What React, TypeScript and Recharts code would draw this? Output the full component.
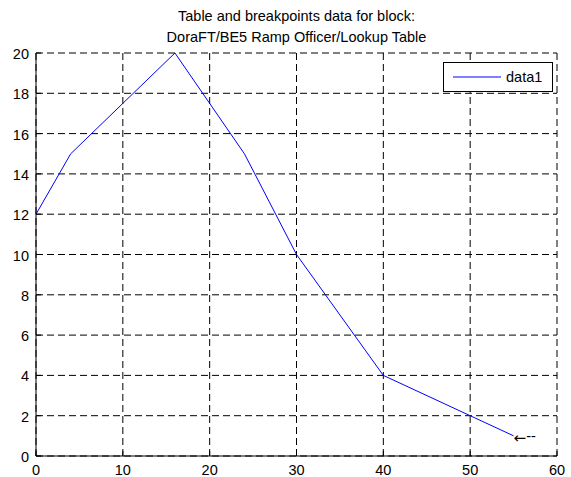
import React from "react";
import {CartesianGrid, Legend, Line, LineChart, XAxis, YAxis} from "recharts";

const breakpoints = [0, 4, 16, 24, 30, 40, 55];
const tableValues = [12, 15, 20, 15, 10, 4, 1];
const xTicks = [0, 10, 20, 30, 40, 50, 60];
const yTicks = [0, 2, 4, 6, 8, 10, 12, 14, 16, 18, 20];
const titleLines = ["Table and breakpoints data for block:", "DoraFT/BE5 Ramp Officer/Lookup Table"];
const seriesName = "data1";
const annotationArrow = "\u2190";
const annotationTail = "--";

const FONT = '"Liberation Sans", Arial, sans-serif';
const FS = 14.5;

const BottomTick = (props: any) => {
  const {x, y, payload} = props;
  return (
    <g>
      <line x1={x} y1={y} x2={x} y2={y - 5} stroke="#000"/>
      <text x={x} y={y + 19} textAnchor="middle" fontSize={FS} fontFamily={FONT} fill="#000">{payload.value}</text>
    </g>
  );
};

const TopTick = (props: any) => {
  const {x, y} = props;
  return <line x1={x} y1={y} x2={x} y2={y + 5} stroke="#000"/>;
};

const LeftTick = (props: any) => {
  const {x, y, payload} = props;
  return (
    <g>
      <line x1={x} y1={y} x2={x + 5} y2={y} stroke="#000"/>
      <text x={x - 7} y={y + 6} textAnchor="end" fontSize={FS} fontFamily={FONT} fill="#000">{payload.value}</text>
    </g>
  );
};

const RightTick = (props: any) => {
  const {x, y} = props;
  return <line x1={x} y1={y} x2={x - 5} y2={y} stroke="#000"/>;
};

const LegendBox = () => (
  <div style={{
    width: 108, height: 28, border: "1px solid #000", background: "#fff",
    display: "flex", alignItems: "center", fontFamily: FONT, fontSize: FS, boxSizing: "content-box",
  }}>
    <svg width={62} height={10}>
      <line x1={9} y1={5} x2={57} y2={5} stroke="#0000ff"/>
    </svg>
    <span>{seriesName}</span>
  </div>
);

export default function App() {
  const data = breakpoints.map((x, i) => ({x, y: tableValues[i]}));
  const last = data.length - 1;

  return (
    <div style={{position: "absolute", left: 0, top: 0, width: 571, height: 477, background: "#fff"}}>
      <div style={{
        position: "absolute", left: 36, width: 521, top: 5.5, textAlign: "center",
        fontFamily: FONT, fontSize: FS, lineHeight: "21px", color: "#000",
      }}>
        {titleLines.map((t) => <div key={t}>{t}</div>)}
      </div>
      <LineChart width={571} height={477} data={data}
                 margin={{top: 53, right: 14, left: 6, bottom: 1}}>
        <CartesianGrid stroke="#000" strokeDasharray="7 4"/>
        <XAxis dataKey="x" type="number" domain={[0, 60]} ticks={xTicks} height={20}
               axisLine={{stroke: "#000"}} tickLine={false} tickSize={0} tickMargin={0} tick={<BottomTick/>}/>
        <XAxis xAxisId="top" orientation="top" dataKey="x" type="number" domain={[0, 60]} ticks={xTicks}
               height={0} axisLine={false} tickLine={false} tickSize={0} tickMargin={0} tick={<TopTick/>}/>
        <YAxis type="number" domain={[0, 20]} ticks={yTicks} width={30}
               axisLine={{stroke: "#000"}} tickLine={false} tickSize={0} tickMargin={0} tick={<LeftTick/>}/>
        <YAxis yAxisId="right" orientation="right" type="number" domain={[0, 20]} ticks={yTicks}
               width={0} axisLine={false} tickLine={false} tickSize={0} tickMargin={0} tick={<RightTick/>}/>
        <Legend layout="vertical" align="center" verticalAlign="middle"
                wrapperStyle={{left: 443, top: 62, width: 110}} content={() => <LegendBox/>}/>
        <Line type="linear" dataKey="y" name={seriesName} stroke="#0000ff" strokeWidth={1}
              dot={false} activeDot={false} isAnimationActive={false}
              label={(p: any) => p.index === last
                ? <text x={p.x} y={p.y + 7} fontSize={FS} fontFamily={FONT} fill="#000">
                    <tspan fontFamily='"DejaVu Sans", sans-serif' fontSize={15}>{annotationArrow}</tspan>
                    <tspan dy={-2}>{annotationTail}</tspan>
                  </text>
                : null}/>
      </LineChart>
    </div>
  );
}
